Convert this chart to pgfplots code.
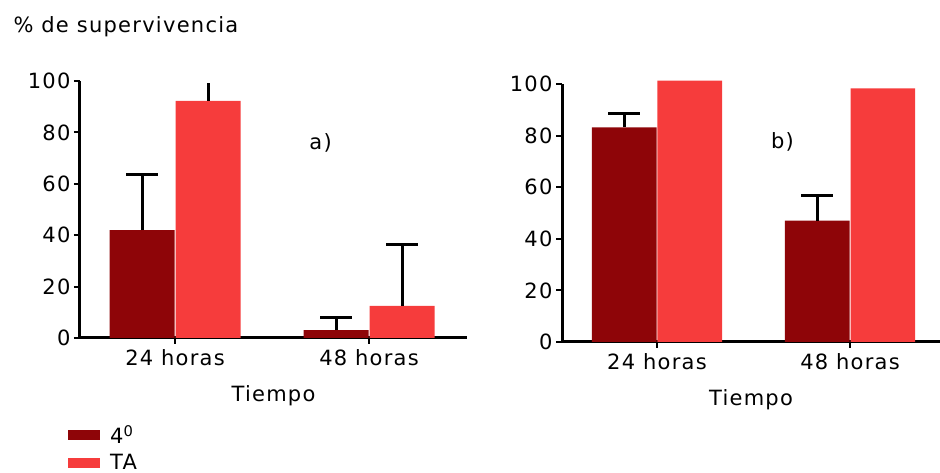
\documentclass[border=0pt]{standalone}
\usepackage{fontspec}
\setmainfont{DejaVu Sans}[LetterSpace=6]
\usepackage{pgfplots}
\pgfplotsset{compat=1.18}

\definecolor{cuatro}{RGB}{142,5,8}
\definecolor{ta}{RGB}{246,60,60}

\pgfplotsset{
  panel/.style={
    scale only axis,
    axis lines=left,
    axis line style={line width=3pt,-},
    ymin=0, ymax=100, ytick={0,20,...,100},
    xtick={0,1}, xticklabels={24 horas,48 horas},
    tick align=outside, major tick length=6pt,
    tick style={line width=2pt,black},
    ybar, bar width=0.335, clip=false,
    xlabel={Tiempo},
    xlabel style={yshift=-13pt},
    xticklabel style={yshift=-2pt},
    font=\fontsize{21}{25}\selectfont,
    tick label style={font=\fontsize{21}{25}\selectfont},
    /pgf/number format/assume math mode=true,
  },
  errs/.style={
    forget plot, draw=none, fill=none,
    error bars/.cd, y dir=plus, y explicit,
    error bar style={line width=3pt,draw=black},
    error mark options={rotate=90,draw=black,line width=3pt,mark size=16pt},
    /pgfplots/.cd,
  },
  barleg/.style={legend image code/.code={\path[##1] (0pt,-5pt) rectangle (32pt,5pt);}},
}

\begin{document}
\begin{tikzpicture}
\path[use as bounding box] (0,0) rectangle (940pt,473pt);
\node[anchor=west,font=\fontsize{21}{25}\selectfont] at (10pt,446pt) {\% de supervivencia};

% a)
\begin{axis}[panel,
  at={(80pt,135pt)}, anchor=south west,
  width=387pt, height=257pt,
  xmin=-0.49, xmax=1.505,
  legend style={at={(-0.031,-0.335)}, anchor=north west, draw=none, fill=none,
    inner sep=0pt, row sep=7pt, nodes={inner sep=1pt},
    /tikz/every odd column/.style={column sep=9pt}},
  legend cell align=left]
\addplot[fill=cuatro, draw=none, bar shift=-0.17, barleg] coordinates {(0,42.0) (1,3.1)};
\addplot[fill=ta, draw=none, bar shift=0.17, barleg] coordinates {(0,92.3) (1,12.5)};
\addplot[errs, bar shift=-0.17] coordinates {(0,42.0) +- (0,21.8) (1,3.1) +- (0,4.8)};
\addplot[errs, bar shift=0.17] coordinates {(1,12.5) +- (0,23.7)};
\addplot[errs, bar shift=0.17, error bars/error mark=none] coordinates {(0,92.3) +- (0,7.0)};
\node at (axis cs:0.75,76) {a)};
\legend{4\textsuperscript{0},TA}
\end{axis}

% b)
\begin{axis}[panel,
  at={(562pt,131pt)}, anchor=south west,
  width=378pt, height=258pt,
  xmin=-0.492, xmax=1.466]
\addplot[fill=cuatro, draw=none, bar shift=-0.17] coordinates {(0,83.2) (1,47.0)};
\addplot[fill=ta, draw=none, bar shift=0.17] coordinates {(0,101.3) (1,98.3)};
\addplot[errs, bar shift=-0.17] coordinates {(0,83.2) +- (0,5.4) (1,47.0) +- (0,9.7)};
\node at (axis cs:0.65,77.5) {b)};
\end{axis}
\end{tikzpicture}
\end{document}
